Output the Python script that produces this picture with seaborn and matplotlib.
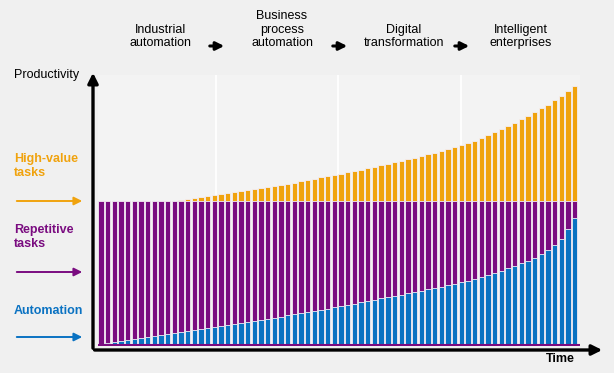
import matplotlib
matplotlib.use('Agg')
import matplotlib.pyplot as plt
import seaborn as sns
import numpy as np
import pandas as pd

# values (repetitive tasks always fill up to 100)
automation = [0, 0.7, 1.4, 2.1, 2.8, 3.5, 4.2, 4.9, 5.6, 6.3, 7.0,
              7.7, 8.4, 9.1, 9.8, 10.5, 11.2, 11.9, 12.6, 13.3, 14.0,
              14.7, 15.4, 16.1, 16.8, 17.5, 18.3, 19.1, 19.9, 20.7, 21.5,
              22.3, 23.1, 23.9, 24.7, 25.5, 26.4, 27.3, 28.2, 29.1, 30.0,
              30.9, 31.8, 32.7, 33.6, 34.5, 35.4, 36.3, 37.2, 38.1, 39.0,
              40.0, 41.0, 42.0, 43.0, 44.0, 45.2, 46.5, 47.8, 49.3, 51.0,
              52.7, 54.5, 56.3, 58.1, 60.0, 62.5, 65.5, 69.0, 73.5, 80.0, 88.0]
repetitive_top = [100] * 72
high_value = [0] * 12 + [0.5, 1.2, 1.9, 2.6, 3.3, 4.0, 4.7, 5.4, 6.1, 6.8, 7.5, 8.2,
              8.9, 9.6, 10.3, 11.0, 11.9, 12.8, 13.7, 14.6, 15.5, 16.4, 17.3, 18.2,
              19.1, 20.0, 20.9, 21.8, 22.8, 23.8, 24.8, 25.9, 27.0, 28.1, 29.2, 30.3,
              31.4, 32.6, 33.8, 35.0, 36.2, 37.4, 38.8, 40.4, 42.1, 44.0, 46.0, 48.1,
              50.2, 52.4, 54.6, 57.0, 59.5, 62.0, 64.6, 67.3, 70.2, 73.3, 76.5, 80.0]

stages = ["Industrial\nautomation", "Business\nprocess\nautomation",
          "Digital\ntransformation", "Intelligent\nenterprises"]
task_labels = ["High-value\ntasks", "Repetitive\ntasks", "Automation"]

ORANGE = '#f0a30e'
PURPLE = '#7a0c80'
BLUE = '#0a72c2'

df = pd.DataFrame({'t': range(len(automation)),
                   'auto': automation,
                   'rep': repetitive_top,
                   'total': [100 + h for h in high_value]})

W, H = 614, 373
fig = plt.figure(figsize=(6.14, 3.73), dpi=100)
plt.rcParams['font.family'] = ['Liberation Sans', 'DejaVu Sans']
fig.patch.set_facecolor('#f0f0f0')

def fx(px):
    return px / W

def fy(py):
    return (H - py) / H

ax = fig.add_axes([fx(97.6), fy(346), fx(580) - fx(97.6), fy(75) - fy(346)])
ax.set_facecolor('#f3f3f3')

# bars keep a thin light edge so the gaps read whiter, as in the original
bar_kw = dict(width=0.8, saturation=1, ax=ax, linewidth=0.6, edgecolor='#f4eef5')
sns.barplot(data=df, x='t', y='total', color=ORANGE, zorder=2, **bar_kw)
sns.barplot(data=df, x='t', y='rep', color=PURPLE, zorder=3, **bar_kw)
sns.barplot(data=df, x='t', y='auto', color=BLUE, zorder=4, **bar_kw)

for xd in [17.3, 35.6, 53.9]:
    ax.axvline(xd, color='white', lw=1.3, zorder=1)
ax.axhline(-0.6, color=PURPLE, lw=1.5, zorder=5)

ax.set_xlim(-0.5, 71.8)
ax.set_ylim(-1.5, 188)
ax.set_xticks([])
ax.set_yticks([])
ax.set_xlabel('')
ax.set_ylabel('')
for s in ax.spines.values():
    s.set_visible(False)

# axis arrows
arrow = dict(arrowstyle='-|>', color='black', lw=2.4, mutation_scale=15)
fig.add_artist(matplotlib.patches.FancyArrowPatch((fx(93), fy(351)), (fx(93), fy(70)),
                                                  transform=fig.transFigure, **arrow))
fig.add_artist(matplotlib.patches.FancyArrowPatch((fx(91.8), fy(350)), (fx(605), fy(350)),
                                                  transform=fig.transFigure, **arrow))
fig.text(fx(14), fy(75), 'Productivity', fontsize=9, va='center', ha='left')
fig.text(fx(560), fy(359), 'Time', fontsize=9, fontweight='bold', va='center', ha='center')

# stage labels and arrows
stage_x = [160, 282, 404, 521]
for sx, lab in zip(stage_x, stages):
    fig.text(fx(sx), fy(49), lab, fontsize=9, ha='center', va='bottom', linespacing=1.15)
small = dict(arrowstyle='-|>', color='black', lw=2.2, mutation_scale=12)
for x0, x1 in [(207, 227), (330, 350), (452, 472)]:
    fig.add_artist(matplotlib.patches.FancyArrowPatch((fx(x0), fy(46)), (fx(x1), fy(46)),
                                                      transform=fig.transFigure, **small))

# left side labels
for lab, col, ty, ay in zip(task_labels, [ORANGE, PURPLE, BLUE], [166, 237, 311], [201, 272, 337]):
    fig.text(fx(14), fy(ty), lab, fontsize=9, fontweight='bold', color=col,
             va='center', ha='left', linespacing=1.2)
    fig.add_artist(matplotlib.patches.FancyArrowPatch((fx(14), fy(ay)), (fx(85), fy(ay)),
                                                      transform=fig.transFigure,
                                                      arrowstyle='-|>', color=col, lw=1.4,
                                                      mutation_scale=12))

fig.savefig('out.png', dpi=100, facecolor=fig.get_facecolor())
